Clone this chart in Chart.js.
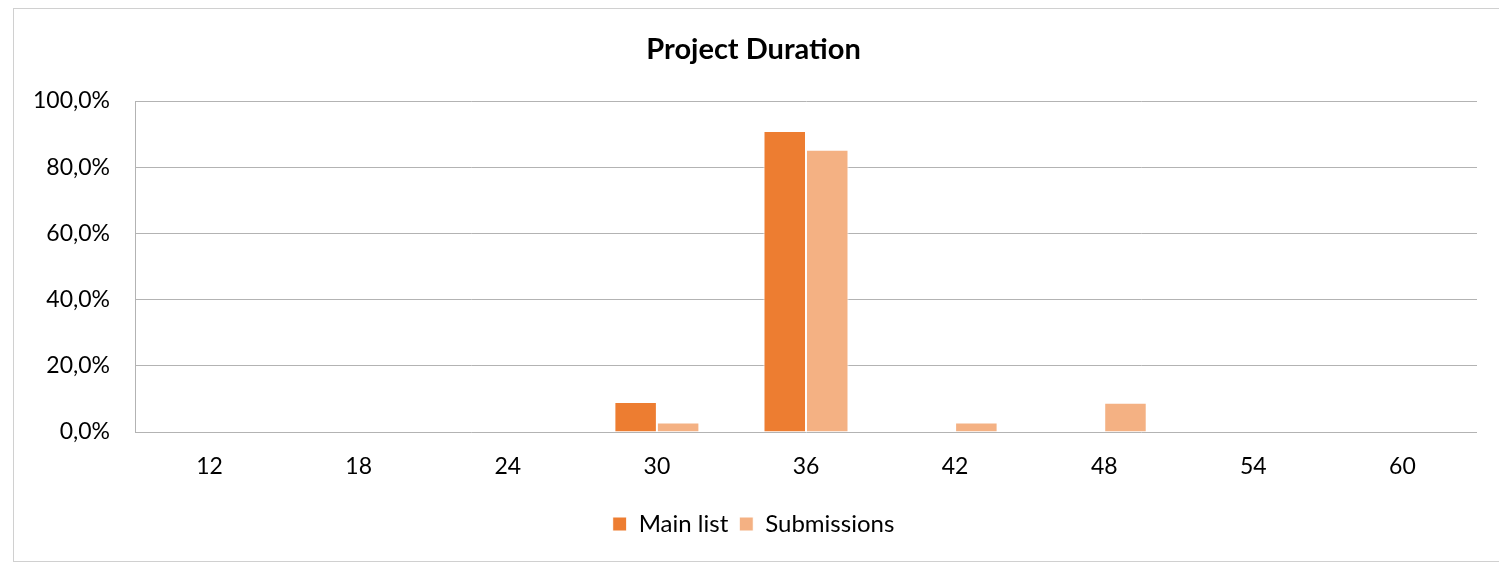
<!DOCTYPE html>
<html>
<head>
<meta charset="utf-8">
<script src="https://cdn.jsdelivr.net/npm/chart.js@4/dist/chart.umd.min.js"></script>
<style>
  body { margin: 0; background: #fff; }
  #box { position: absolute; left: 13px; top: 8px; width: 1490px; height: 552px; border: 1px solid #d0d0d0; }
</style>
</head>
<body>
<div id="box"><canvas id="chart"></canvas></div>
<script>
  var durations = ['12', '18', '24', '30', '36', '42', '48', '54', '60'];
  var mainList = [0, 0, 0, 9.1, 90.9, 0, 0, 0, 0];
  var submissions = [0, 0, 0, 2.9, 85.3, 2.9, 8.8, 0, 0];

  var fontFamily = 'Lato, "Open Sans", sans-serif';

  function pct(v) {
    return v.toFixed(1).replace('.', ',') + '%';
  }

  var chart = new Chart('chart', {
    type: 'bar',
    data: {
      labels: durations,
      datasets: [
        {
          label: 'Main list',
          data: mainList,
          backgroundColor: '#ED7D31',
          borderColor: '#ffffff',
          borderWidth: 1,
          categoryPercentage: 0.57,
          barPercentage: 1
        },
        {
          label: 'Submissions',
          data: submissions,
          backgroundColor: '#F4B183',
          borderColor: '#ffffff',
          borderWidth: 1,
          categoryPercentage: 0.57,
          barPercentage: 1
        }
      ]
    },
    options: {
      responsive: true,
      maintainAspectRatio: false,
      animation: false,
      layout: { padding: { left: 16, right: 27, top: 0, bottom: 15 } },
      plugins: {
        title: {
          display: true,
          text: 'Project Duration',
          color: '#000',
          font: { family: fontFamily, size: 29, weight: 'bold' },
          padding: { top: 23.6, bottom: 33.6 }
        },
        legend: {
          position: 'bottom',
          labels: {
            color: '#000',
            font: { family: fontFamily, size: 24 },
            boxWidth: 14,
            boxHeight: 14,
            padding: 11
          }
        },
        tooltip: { enabled: false }
      },
      scales: {
        x: {
          grid: { display: false, drawTicks: false },
          border: { display: false },
          ticks: { color: '#000', font: { family: fontFamily, size: 23 }, padding: 20.7 }
        },
        y: {
          min: 0,
          max: 100,
          afterFit: function(s) { s.width = 105; },
          grid: { color: '#b3b3b3', drawTicks: false },
          border: { display: true, color: '#b3b3b3' },
          ticks: {
            stepSize: 20,
            color: '#000',
            padding: 25,
            font: { family: fontFamily, size: 23 },
            callback: function(v) { return pct(v); }
          }
        }
      }
    }
  });
</script>
</body>
</html>
